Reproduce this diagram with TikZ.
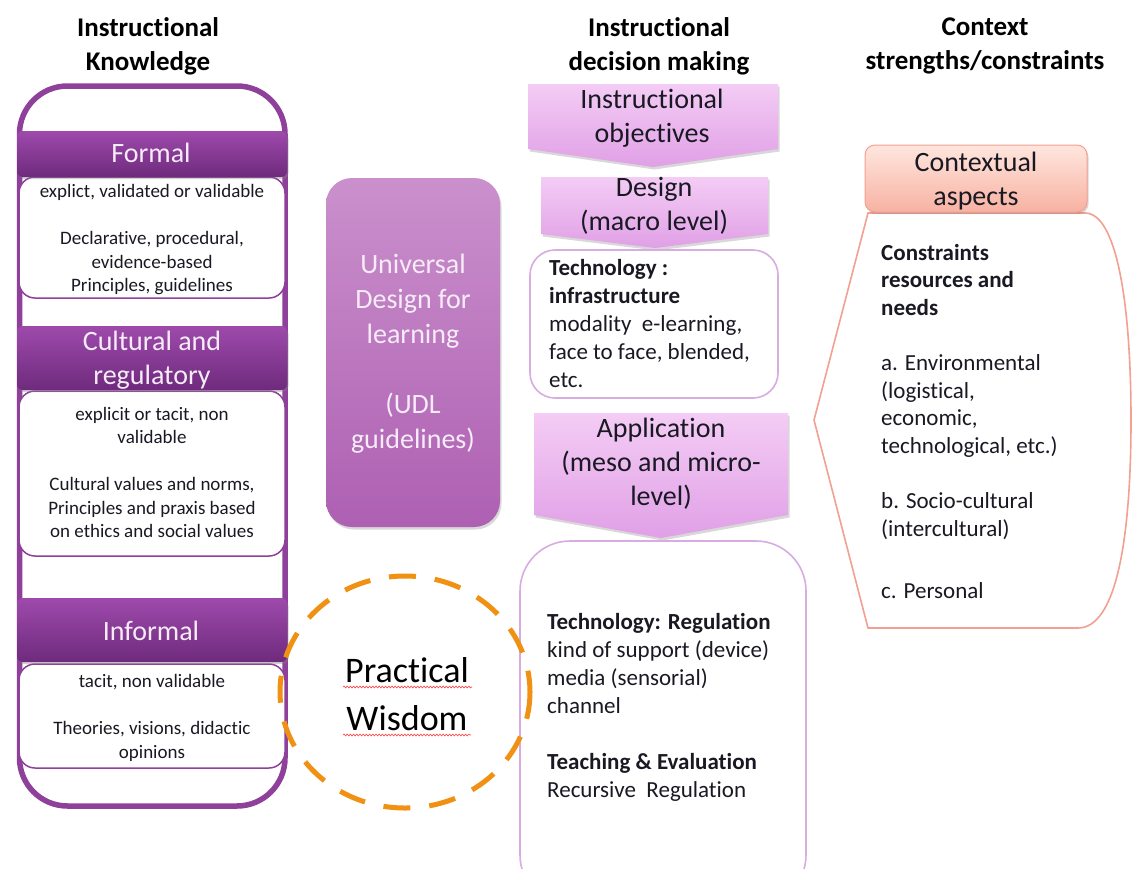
\documentclass[tikz,border=0pt]{standalone}
\usepackage{fontspec}
\setmainfont{Carlito}[Ligatures=NoCommon]
\usetikzlibrary{shadows,decorations.pathmorphing}

\definecolor{ikpurple}{RGB}{142,64,155}
\definecolor{bartop}{RGB}{158,74,172}
\definecolor{barbot}{RGB}{110,42,124}
\definecolor{bartext}{RGB}{246,236,248}
\definecolor{udltop}{RGB}{202,144,204}
\definecolor{udlbot}{RGB}{174,96,178}
\definecolor{arrtop}{RGB}{244,204,245}
\definecolor{arrbot}{RGB}{224,160,230}
\definecolor{techline}{RGB}{216,172,226}
\definecolor{ctxtop}{RGB}{255,230,222}
\definecolor{ctxbot}{RGB}{247,178,162}
\definecolor{ctxline}{RGB}{242,160,145}
\definecolor{wisdom}{RGB}{240,145,20}
\definecolor{txt}{RGB}{25,25,35}

% note: anchor=base of a multi-line node is the baseline of its LAST line
\tikzset{
  hdr/.style={font=\fontsize{27}{34}\selectfont\bfseries, align=center, anchor=base, inner sep=0pt, text=black},
  bartxt/.style={font=\fontsize{28}{34}\selectfont, align=center, anchor=base, inner sep=0pt, text=bartext},
  lbody/.style={font=\fontsize{19}{23.5}\selectfont, align=center, anchor=base, inner sep=0pt, text=txt},
  arrtxt/.style={font=\fontsize{28}{34}\selectfont, align=center, anchor=base, inner sep=0pt, text=txt},
  udltxt/.style={font=\fontsize{28}{35}\selectfont, align=center, anchor=base, inner sep=0pt, text=bartext},
  rbody/.style={font=\fontsize{23}{28}\selectfont, align=left, anchor=base west, inner sep=0pt, text=txt},
  cbody/.style={font=\fontsize{23}{27.5}\selectfont, align=left, anchor=base west, inner sep=0pt, text=txt},
  barfill/.style={top color=bartop, bottom color=barbot, rounded corners=6pt,
     drop shadow={shadow xshift=1.5pt, shadow yshift=-2pt, opacity=0.35}},
  whitebox/.style={draw=ikpurple, line width=1.5pt, fill=white, rounded corners=16pt},
  arrfill/.style={top color=arrtop, bottom color=arrbot,
     drop shadow={shadow xshift=1.5pt, shadow yshift=-2.5pt, opacity=0.3}},
  techbox/.style={draw=techline, line width=1.6pt, fill=white},
  squiggle/.style={draw=red!75, line width=0.6pt, decorate, decoration={snake, amplitude=0.9pt, segment length=3.2pt}}
}

\begin{document}
\begin{tikzpicture}[x=1pt,y=-1pt]
\useasboundingbox (0,0) rectangle (1132,868);
\clip (0,0) rectangle (1132,868);
\fill[white] (0,0) rectangle (1132,868);

% ---------- headers ----------
\node[hdr] (h1) at (148,70) {Instructional\\Knowledge};
\node[hdr] (h2) at (659,70) {Instructional\\decision making};
\node[hdr] (h3) at (985,69) {Context\\strengths/constraints};

% ---------- left column ----------
\draw[ikpurple, line width=5.5pt, rounded corners=48pt] (19.5,86) rectangle (285,806);

\path[whitebox] (19,177) rectangle (285,298);
\path[whitebox] (19,391) rectangle (285,556);
\path[whitebox] (19,664) rectangle (285,768);

\path[barfill] (17,131) rectangle (287,177);
\path[barfill] (17,326) rectangle (287,390);
\path[barfill] (17,598) rectangle (287,662);

\node[bartxt] (formal) at (151,162) {Formal};
\node[bartxt] (cultural) at (152,384) {Cultural and\\regulatory};
\node[bartxt] (informal) at (151,640) {Informal};

\node[lbody] (formalb) at (152,291.5) {explict, validated or validable\\[23.5pt]Declarative, procedural,\\evidence-based\\Principles,\ guidelines};
\node[lbody] (culturalb) at (152,537.5) {explicit or tacit, non\\validable\\[23.5pt]Cultural values and norms,\\Principles and praxis based\\on ethics and social values};
\node[lbody] (informalb) at (152,758) {tacit, non validable\\[24pt]Theories, visions, didactic\\opinions};

% ---------- UDL ----------
\path[top color=udltop, bottom color=udlbot, rounded corners=26pt,
      drop shadow={shadow xshift=1.5pt, shadow yshift=-2.5pt, opacity=0.3}] (326,178) rectangle (500,527);
\node[udltxt] (udl) at (413,448) {Universal\\Design for\\learning\\[35pt](UDL\\guidelines)};

% ---------- middle column ----------
\path[arrfill] (528,84) -- (778,84) -- (778,149) -- (653,167) -- (528,149) -- cycle;
\node[arrtxt] (obj) at (652,142) {Instructional\\objectives};

\path[arrfill] (541,177) -- (768,177) -- (768,234) -- (655,248) -- (541,234) -- cycle;
\node[arrtxt] (design) at (654,230) {Design\\(macro level)};

\path[techbox, rounded corners=25pt] (530,250) rectangle (778,398);
\node[rbody] (tech1) at (549,387) {\textbf{Technology :}\\\textbf{infrastructure}\\modality\ \ e-learning,\\face to face, blended,\\etc.};

\path[arrfill] (534,413) -- (788,413) -- (788,515) -- (661,538) -- (534,515) -- cycle;
\node[arrtxt] (appl) at (661,505) {Application\\(meso and micro-\\level)};

\path[techbox, rounded corners=50pt] (520,541) rectangle (806,905);
\node[rbody] (tech2) at (547,797) {\textbf{Technology: Regulation}\\kind of support (device)\\media (sensorial)\\channel\\[28pt]\textbf{Teaching \& Evaluation}\\Recursive\ \ Regulation};

% ---------- right column ----------
\draw[ctxline, line width=1.6pt] (868,213) -- (814,420) -- (868,628) -- (1078,628)
   .. controls (1116,628) and (1131,540) .. (1131,420)
   .. controls (1131,300) and (1116,213) .. (1085,213) -- cycle;
\path[top color=ctxtop, bottom color=ctxbot, draw=ctxline, line width=1pt, rounded corners=10pt,
      drop shadow={shadow xshift=1.5pt, shadow yshift=-2pt, opacity=0.3}] (865,145) rectangle (1087,212);
\node[arrtxt] (ctx) at (976,205) {Contextual\\aspects};

\node[cbody] (c1) at (881,315) {\textbf{Constraints}\\\textbf{resources and}\\\textbf{needs}};
\node[cbody] (c2) at (881,453) {a. Environmental\\(logistical,\\economic,\\technological, etc.)};
\node[cbody] (c3) at (881,536) {b. Socio-cultural\\(intercultural)};
\node[cbody] (c4) at (881,598) {c. Personal};

% ---------- practical wisdom ----------
\draw[wisdom, line width=5pt, dash pattern=on 27pt off 19pt] (405,692) ellipse [x radius=125, y radius=116];
\node[font=\fontsize{36}{48}\selectfont, align=center, anchor=base, inner sep=0pt, text=black] (pw) at (407,730) {Practical\\Wisdom};
\draw[squiggle] (343,687) -- (472,687);
\draw[squiggle] (343,735) -- (471,735);
\end{tikzpicture}
\end{document}
